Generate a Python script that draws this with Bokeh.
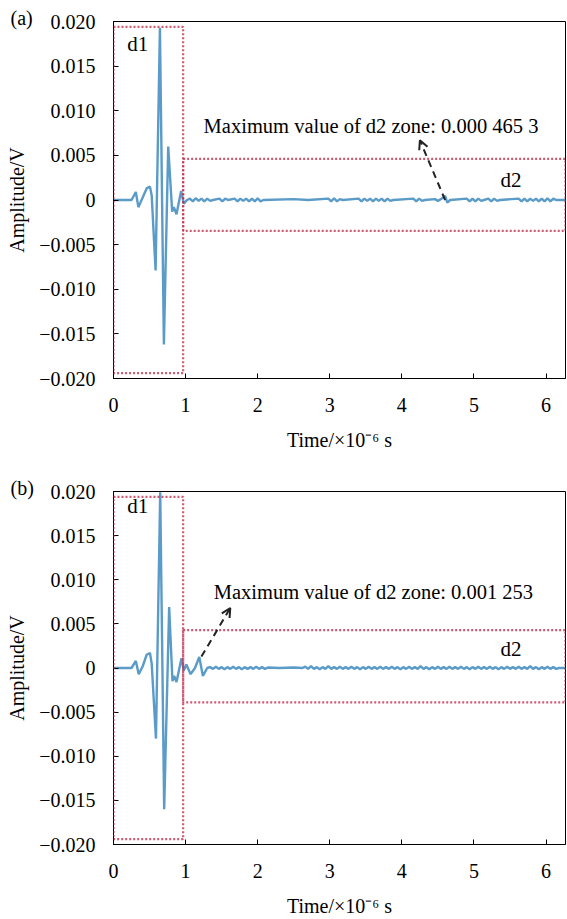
from bokeh.plotting import figure
from bokeh.layouts import column
from bokeh.models import (Range1d, FixedTicker, CustomJSTickFormatter, Label, BoxAnnotation,
                          Arrow, OpenHead, Title)
from bokeh.embed import file_html
from bokeh.resources import INLINE

# ---- data (time in 1e-6 s, amplitude in V) ----
time_a = [0.00, 0.25, 0.31, 0.345, 0.40, 0.46, 0.506, 0.53, 0.584, 0.644, 0.699, 0.759, 0.814,
          0.837, 0.874, 0.938, 0.975, 1.02,
          1.06, 1.10, 1.14, 1.18, 1.22, 1.26, 1.30, 1.34, 1.38,
          1.47, 1.51, 1.55, 1.59,
          1.68, 1.72, 1.76, 1.80, 1.84, 1.88, 1.92, 1.96, 2.00, 2.04, 2.08,
          2.50, 2.70,
          2.98, 3.02, 3.06, 3.10, 3.14, 3.18,
          3.40, 3.44, 3.48, 3.52, 3.56, 3.60, 3.64, 3.68, 3.72, 3.76, 3.80, 3.84, 3.88,
          4.16, 4.20, 4.24, 4.28, 4.32,
          4.46, 4.50, 4.55, 4.60, 4.63, 4.67,
          4.90, 4.94, 4.98, 5.02, 5.06, 5.10, 5.14,
          5.20, 5.24, 5.28, 5.32, 5.36,
          5.62, 5.66, 5.70, 5.74, 5.78, 5.82, 5.86, 5.90, 5.94, 5.98, 6.02, 6.06, 6.10, 6.14, 6.27]
amp_a = [0.0, 0.0, 0.0009, -0.0008, 0.0002, 0.0013, 0.0015, 0.0005, -0.0079, 0.0193, -0.0162, 0.0060, -0.0013,
         -0.0008, -0.0016, 0.0010, -0.0004, 0.0,
         0.00015, -0.00015, 0.0002, -0.0001, 0.00015, -0.00015, 0.00015, -0.0001, 0.0,
         0.00015, -0.00015, 0.00015, 0.0,
         0.00015, -0.00015, 0.00015, -0.0001, 0.00015, -0.00015, 0.00015, -0.00015, 0.0002, -0.00015, 0.0,
         0.0001, 0.0,
         0.00015, -0.00015, 0.0002, -0.00015, 0.0001, 0.0,
         0.00015, -0.00015, 0.00015, -0.0001, 0.00015, -0.00015, 0.00015, -0.0001, 0.00015, -0.00015, 0.00015, -0.0001, 0.0,
         0.00015, -0.00015, 0.00015, -0.0001, 0.0,
         0.0001, -0.0001, 0.00015, 0.000465, -0.0003, 0.0,
         0.00015, -0.00015, 0.00015, -0.00015, 0.00015, -0.0001, 0.0,
         0.00015, -0.00015, 0.00015, -0.0001, 0.0,
         0.00015, -0.00015, 0.00015, -0.00015, 0.00015, -0.0001, 0.00015, -0.00015, 0.00015, -0.00015, 0.0002, -0.00015, 0.00015, 0.0, 0.0]

time_b = [0.00, 0.25, 0.31, 0.35, 0.405, 0.46, 0.506, 0.53, 0.589, 0.648, 0.703, 0.772, 0.818,
          0.841, 0.874, 0.943, 0.975, 1.01, 1.07, 1.13, 1.19, 1.24, 1.30,
          1.34, 1.38, 1.42, 1.46, 1.50, 1.54, 1.58, 1.62, 1.66, 1.70, 1.74, 1.78, 1.82, 1.86,
          1.90, 1.94, 1.98, 2.02, 2.06, 2.10, 2.14, 2.30, 2.50, 2.62,
          2.66, 2.70, 2.74, 2.78, 2.82, 2.86, 2.90, 2.94, 2.98, 3.02, 3.06, 3.10,
          3.14, 3.18, 3.22, 3.26, 3.30, 3.34, 3.38, 3.42, 3.46, 3.50, 3.54, 3.58,
          3.62, 3.66, 3.70, 3.74, 3.78, 3.82, 3.86, 3.90, 3.94, 3.98, 4.02, 4.06,
          4.10, 4.14, 4.18, 4.22, 4.26, 4.30, 4.34, 4.38, 4.42, 4.46, 4.50, 4.54,
          4.58, 4.62, 4.66, 4.70, 4.74, 4.78, 4.82, 4.86, 4.90, 4.94, 4.98, 5.02,
          5.06, 5.10, 5.14, 5.18, 5.22, 5.26, 5.30, 5.34, 5.38, 5.42, 5.46, 5.50,
          5.54, 5.58, 5.62, 5.66, 5.70, 5.74, 5.78, 5.82, 5.86, 5.90, 5.94, 5.98,
          6.02, 6.06, 6.10, 6.14, 6.18, 6.27]
amp_b = [0.0, 0.0, 0.0008, -0.0007, 0.0002, 0.0015, 0.0017, 0.0005, -0.0080, 0.0199, -0.0160, 0.0069, -0.0015,
         -0.0009, -0.0016, 0.0011, -0.0003, 0.0004, -0.0007, 0.0, 0.00125, -0.0009, 0.0,
         0.0001, -0.0001, 0.00015, -0.0001, 0.0001, -0.00015, 0.0001, -0.0001, 0.00015, -0.0001, 0.0001, -0.00015, 0.0001, -0.0001,
         0.0001, -0.0001, 0.00015, -0.0001, 0.0001, -0.0001, 0.00005, 0.0, 0.00005, 0.0,
         0.00015, -0.0001, 0.0002, -0.0001, 0.0001, -0.00015, 0.0001, -0.0001, 0.0002, -0.0001, 0.0001, -0.0001,
         0.00015, -0.0001, 0.0001, -0.0001, 0.00015, -0.0001, 0.0001, -0.00015, 0.0001, -0.0001, 0.00015, -0.0001,
         0.0001, -0.0001, 0.00015, -0.0001, 0.0001, -0.0001, 0.00015, -0.0001, 0.0001, -0.00015, 0.0001, -0.0001,
         0.00015, -0.0001, 0.0001, -0.0001, 0.0002, -0.0001, 0.0001, -0.00015, 0.0001, -0.0001, 0.00015, -0.0001,
         0.0001, -0.0001, 0.00015, -0.0001, 0.0001, -0.0001, 0.00015, -0.0001, 0.0001, -0.00015, 0.0001, -0.0001,
         0.00015, -0.0001, 0.0001, -0.0001, 0.00015, -0.0001, 0.0001, -0.00015, 0.0001, -0.0001, 0.00015, -0.0001,
         0.0001, -0.0001, 0.00015, -0.0001, 0.0001, -0.0001, 0.0002, -0.0001, 0.0001, -0.00015, 0.0001, -0.0001,
         0.00015, -0.0001, 0.0001, -0.0001, 0.0, 0.0]

x_ticks = [0, 1, 2, 3, 4, 5, 6]
y_ticks = [-0.020, -0.015, -0.010, -0.005, 0.0, 0.005, 0.010, 0.015, 0.020]

panel_labels = ["(a)", "(b)"]
notes = ["Maximum value of d2 zone: 0.000 465 3", "Maximum value of d2 zone: 0.001 253"]
# zone boxes: d1 (t0, t1, lo, hi), d2 (t0, lo, hi)
d1_box = [(0.0, 0.966, -0.0194, 0.0194), (0.0, 0.966, -0.0194, 0.0194)]
d2_box = [(0.966, -0.00345, 0.0046), (0.966, -0.0039, 0.0043)]
arrows = [(4.60, 0.0, 4.25, 0.0067), (1.22, 0.0013, 1.62, 0.0068)]
note_pos = [(1.25, 0.0083), (1.39, 0.0086)]
d2_pos = [(5.37, 0.0022), (5.37, 0.0022)]
d1_pos = [(0.19, 0.0175), (0.19, 0.0184)]

FONT = "Liberation Serif, Times New Roman, serif"
LINE_COLOR = "#5a9bc8"
BOX_COLOR = "#c03050"

fmt = CustomJSTickFormatter(code="""
const v = Math.round(tick*1000)/1000;
if (Math.abs(v) < 1e-9) return '0';
return (v < 0 ? '\\u2212' : '') + Math.abs(v).toFixed(3);
""")


def make(i, t, a, height, top, bottom):
    p = figure(width=567, height=height, output_backend="svg", toolbar_location=None,
               x_range=Range1d(0, 6.27), y_range=Range1d(-0.02, 0.02),
               min_border_left=113, min_border_right=2, min_border_top=top, min_border_bottom=bottom)
    p.xgrid.visible = False
    p.ygrid.visible = False
    p.outline_line_color = "black"
    p.outline_line_width = 1
    p.background_fill_color = "white"
    p.border_fill_color = "white"

    for ax in (p.xaxis[0], p.yaxis[0]):
        ax.major_tick_in = 5
        ax.major_tick_out = 0
        ax.minor_tick_line_color = None
        ax.axis_line_color = "black"
        ax.major_tick_line_color = "black"
        ax.major_label_text_font = FONT
        ax.major_label_text_font_size = "20px"
        ax.major_label_text_color = "black"
        ax.axis_label_text_font = FONT
        ax.axis_label_text_font_size = "20px"
        ax.axis_label_text_font_style = "normal"
        ax.axis_label_text_color = "black"

    p.xaxis.ticker = FixedTicker(ticks=x_ticks)
    p.yaxis.ticker = FixedTicker(ticks=y_ticks)
    p.yaxis.formatter = fmt
    p.xaxis.axis_label = "Time/\u00d710\u207b\u2076 s"
    p.yaxis.axis_label = "Amplitude/V"
    p.xaxis.major_label_standoff = 19
    p.xaxis.axis_label_standoff = 14
    p.yaxis.major_label_standoff = 18
    p.yaxis.axis_label_standoff = 8

    # zone boxes
    l, r, lo, hi = d1_box[i]
    p.add_layout(BoxAnnotation(left=l, right=r, bottom=lo, top=hi, fill_alpha=0,
                               line_color=BOX_COLOR, line_width=2.2, line_alpha=0.8, line_dash="2 2"))
    l2, lo2, hi2 = d2_box[i]
    p.add_layout(BoxAnnotation(left=l2, right=6.27, bottom=lo2, top=hi2, fill_alpha=0,
                               line_color=BOX_COLOR, line_width=2.2, line_alpha=0.8, line_dash="2 2"))

    p.line(t, a, line_color=LINE_COLOR, line_width=2.4)

    x0, y0, x1, y1 = arrows[i]
    p.add_layout(Arrow(x_start=x0, y_start=y0, x_end=x1, y_end=y1, line_color="#222222",
                       line_width=2, line_dash="7 5",
                       end=OpenHead(size=9, line_color="#222222", line_width=2)))

    nx, ny = note_pos[i]
    p.add_layout(Label(x=nx, y=ny, text=notes[i], text_font=FONT, text_font_size="20.5px",
                       text_baseline="middle", text_color="black"))
    dx, dy = d2_pos[i]
    p.add_layout(Label(x=dx, y=dy, text="d2", text_font=FONT, text_font_size="21px",
                       text_baseline="middle", text_color="black"))
    ex, ey = d1_pos[i]
    p.add_layout(Label(x=ex, y=ey, text="d1", text_font=FONT, text_font_size="21px",
                       text_baseline="middle", text_color="black"))
    p.add_layout(Title(text=panel_labels[i], align="left", offset=-103, standoff=-14,
                       text_font=FONT, text_font_size="20px", text_font_style="normal",
                       text_color="black"), "above")
    return p


p1 = make(0, time_a, amp_a, 460, 21, 82)
p2 = make(1, time_b, amp_b, 459, 31, 70)
layout = column(p1, p2, spacing=0)

open("out.html", "w").write(file_html(layout, INLINE))
